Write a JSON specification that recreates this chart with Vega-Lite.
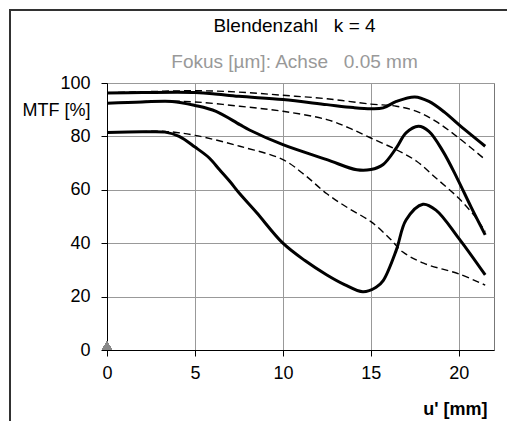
{
  "$schema": "https://vega.github.io/schema/vega-lite/v6.json",
  "width": 387,
  "height": 267,
  "autosize": {"type": "none"},
  "padding": {"left": 107, "top": 83, "right": 13, "bottom": 71},
  "background": "#ffffff",
  "config": {
    "font": "Liberation Sans",
    "view": {"stroke": "#777", "strokeWidth": 1},
    "axis": {"labelFont": "Liberation Sans", "titleFont": "Liberation Sans", "labelColor": "#000", "titleColor": "#000"}
  },
  "title": {
    "text": "Blendenzahl\u00a0\u00a0\u00a0k = 4",
    "subtitle": "Fokus [µm]: Achse\u00a0\u00a0\u00a00.05 mm",
    "anchor": "middle",
    "frame": "group",
    "dx": -6,
    "fontSize": 19,
    "fontWeight": "normal",
    "color": "#000",
    "subtitleFontSize": 19,
    "subtitleColor": "#999",
    "subtitlePadding": 17,
    "offset": -63,
    "font": "Liberation Sans",
    "subtitleFont": "Liberation Sans"
  },
  "data": {
    "values": [
      {"s": "A", "t": "solid", "x": 0, "y": 96.3},
      {"s": "A", "t": "solid", "x": 2, "y": 96.4},
      {"s": "A", "t": "solid", "x": 4, "y": 96.5},
      {"s": "A", "t": "solid", "x": 5, "y": 96.4},
      {"s": "A", "t": "solid", "x": 6, "y": 96.0},
      {"s": "A", "t": "solid", "x": 7.5, "y": 95.0},
      {"s": "A", "t": "solid", "x": 10, "y": 93.8},
      {"s": "A", "t": "solid", "x": 12.5, "y": 91.9},
      {"s": "A", "t": "solid", "x": 14, "y": 90.8},
      {"s": "A", "t": "solid", "x": 15, "y": 90.4},
      {"s": "A", "t": "solid", "x": 15.7, "y": 90.7},
      {"s": "A", "t": "solid", "x": 16.45, "y": 93.1},
      {"s": "A", "t": "solid", "x": 17.5, "y": 94.8},
      {"s": "A", "t": "solid", "x": 18.3, "y": 93.1},
      {"s": "A", "t": "solid", "x": 19.2, "y": 89},
      {"s": "A", "t": "solid", "x": 20, "y": 84.4},
      {"s": "A", "t": "solid", "x": 21.5, "y": 76.3},
      {"s": "B", "t": "solid", "x": 0, "y": 92.4},
      {"s": "B", "t": "solid", "x": 2, "y": 92.9},
      {"s": "B", "t": "solid", "x": 3.7, "y": 93.1},
      {"s": "B", "t": "solid", "x": 5, "y": 91.6},
      {"s": "B", "t": "solid", "x": 6.2, "y": 89.4},
      {"s": "B", "t": "solid", "x": 7.55, "y": 84.4},
      {"s": "B", "t": "solid", "x": 8.1, "y": 82.4},
      {"s": "B", "t": "solid", "x": 10, "y": 76.9},
      {"s": "B", "t": "solid", "x": 12.5, "y": 71.3},
      {"s": "B", "t": "solid", "x": 14.2, "y": 67.5},
      {"s": "B", "t": "solid", "x": 15, "y": 67.6},
      {"s": "B", "t": "solid", "x": 15.7, "y": 69.5},
      {"s": "B", "t": "solid", "x": 16.45, "y": 75.7},
      {"s": "B", "t": "solid", "x": 17, "y": 81.3},
      {"s": "B", "t": "solid", "x": 17.7, "y": 83.8},
      {"s": "B", "t": "solid", "x": 18.3, "y": 81.9},
      {"s": "B", "t": "solid", "x": 19.1, "y": 74.4},
      {"s": "B", "t": "solid", "x": 19.9, "y": 64.4},
      {"s": "B", "t": "solid", "x": 20.7, "y": 53.5},
      {"s": "B", "t": "solid", "x": 21.5, "y": 43.1},
      {"s": "C", "t": "solid", "x": 0, "y": 81.5},
      {"s": "C", "t": "solid", "x": 2, "y": 81.7},
      {"s": "C", "t": "solid", "x": 3.3, "y": 81.6},
      {"s": "C", "t": "solid", "x": 4.1, "y": 80.0},
      {"s": "C", "t": "solid", "x": 5, "y": 76},
      {"s": "C", "t": "solid", "x": 5.8, "y": 72},
      {"s": "C", "t": "solid", "x": 6.4, "y": 67.5},
      {"s": "C", "t": "solid", "x": 7, "y": 63},
      {"s": "C", "t": "solid", "x": 7.55, "y": 58.5},
      {"s": "C", "t": "solid", "x": 8.5, "y": 51.5},
      {"s": "C", "t": "solid", "x": 10, "y": 40},
      {"s": "C", "t": "solid", "x": 11.25, "y": 33.5},
      {"s": "C", "t": "solid", "x": 12.5, "y": 28.1},
      {"s": "C", "t": "solid", "x": 13.5, "y": 24.5},
      {"s": "C", "t": "solid", "x": 14.55, "y": 21.8},
      {"s": "C", "t": "solid", "x": 15.3, "y": 23.5},
      {"s": "C", "t": "solid", "x": 15.7, "y": 26},
      {"s": "C", "t": "solid", "x": 16.45, "y": 37.5},
      {"s": "C", "t": "solid", "x": 17, "y": 48.7},
      {"s": "C", "t": "solid", "x": 17.96, "y": 54.6},
      {"s": "C", "t": "solid", "x": 18.7, "y": 52.4},
      {"s": "C", "t": "solid", "x": 20, "y": 41.8},
      {"s": "C", "t": "solid", "x": 21.5, "y": 28.1},
      {"s": "D", "t": "dashed", "x": 0, "y": 96.3},
      {"s": "D", "t": "dashed", "x": 2.5, "y": 96.8},
      {"s": "D", "t": "dashed", "x": 5, "y": 97.1},
      {"s": "D", "t": "dashed", "x": 7.5, "y": 96.6},
      {"s": "D", "t": "dashed", "x": 10, "y": 95.4},
      {"s": "D", "t": "dashed", "x": 12.5, "y": 94.1},
      {"s": "D", "t": "dashed", "x": 15, "y": 92.1},
      {"s": "D", "t": "dashed", "x": 16.45, "y": 91.3},
      {"s": "D", "t": "dashed", "x": 17.6, "y": 89.4},
      {"s": "D", "t": "dashed", "x": 18.7, "y": 85.6},
      {"s": "D", "t": "dashed", "x": 20, "y": 79.4},
      {"s": "D", "t": "dashed", "x": 21.5, "y": 71.3},
      {"s": "E", "t": "dashed", "x": 0, "y": 92.4},
      {"s": "E", "t": "dashed", "x": 3, "y": 93.2},
      {"s": "E", "t": "dashed", "x": 5, "y": 92.9},
      {"s": "E", "t": "dashed", "x": 7.55, "y": 91.3},
      {"s": "E", "t": "dashed", "x": 10, "y": 89.4},
      {"s": "E", "t": "dashed", "x": 12.5, "y": 86.3},
      {"s": "E", "t": "dashed", "x": 13.75, "y": 83.2},
      {"s": "E", "t": "dashed", "x": 15, "y": 79.4},
      {"s": "E", "t": "dashed", "x": 16.45, "y": 75.0},
      {"s": "E", "t": "dashed", "x": 17.6, "y": 70.7},
      {"s": "E", "t": "dashed", "x": 18.7, "y": 64.4},
      {"s": "E", "t": "dashed", "x": 20, "y": 56.8},
      {"s": "E", "t": "dashed", "x": 21, "y": 49.3},
      {"s": "E", "t": "dashed", "x": 21.5, "y": 44.3},
      {"s": "F", "t": "dashed", "x": 0, "y": 81.5},
      {"s": "F", "t": "dashed", "x": 2, "y": 81.8},
      {"s": "F", "t": "dashed", "x": 3.3, "y": 81.9},
      {"s": "F", "t": "dashed", "x": 5, "y": 80.4},
      {"s": "F", "t": "dashed", "x": 7.55, "y": 76.3},
      {"s": "F", "t": "dashed", "x": 10, "y": 71.3},
      {"s": "F", "t": "dashed", "x": 11.25, "y": 65.5},
      {"s": "F", "t": "dashed", "x": 12.5, "y": 58.5},
      {"s": "F", "t": "dashed", "x": 13.75, "y": 53},
      {"s": "F", "t": "dashed", "x": 15, "y": 48.1},
      {"s": "F", "t": "dashed", "x": 16.07, "y": 41.8},
      {"s": "F", "t": "dashed", "x": 16.8, "y": 36.8},
      {"s": "F", "t": "dashed", "x": 18, "y": 32.5},
      {"s": "F", "t": "dashed", "x": 20, "y": 28.5},
      {"s": "F", "t": "dashed", "x": 21.5, "y": 24.3}
    ]
  },
  "layer": [
    {
      "transform": [{"filter": "datum.t === 'dashed'"}],
      "mark": {"type": "line", "interpolate": "catmull-rom", "color": "#000", "strokeWidth": 1.4, "strokeDash": [7, 4]},
      "encoding": {
        "x": {
          "field": "x", "type": "quantitative",
          "scale": {"domain": [0, 22], "nice": false, "zero": false},
          "axis": {
            "values": [0, 5, 10, 15, 20],
            "grid": true, "gridColor": "#999", "gridWidth": 1,
            "domainColor": "#000", "tickColor": "#000", "tickSize": 6,
            "labelFontSize": 18, "labelPadding": 8, "labelFlush": false, "labelOverlap": false,
            "title": "u' [mm]", "titleFontSize": 18, "titleFontWeight": "bold",
            "titleAnchor": "end", "titleAlign": "right", "titleX": 380, "titleY": 64, "titleBaseline": "alphabetic"
          }
        },
        "y": {
          "field": "y", "type": "quantitative",
          "scale": {"domain": [0, 100], "nice": false},
          "axis": {
            "values": [0, 10, 20, 30, 40, 50, 60, 70, 80, 90, 100],
            "grid": true, "gridColor": "#999", "gridWidth": 1,
            "gridOpacity": {"condition": {"test": "datum.value % 20 === 0", "value": 1}, "value": 0},
            "domainColor": "#000", "tickColor": "#000",
            "tickSize": {"condition": {"test": "datum.value % 20 === 0", "value": 6}, "value": 4},
            "labelFontSize": 18, "labelPadding": 11, "labelFlush": false, "labelOverlap": false,
            "labelExpr": "datum.value % 20 === 0 ? datum.label : ''",
            "title": "MTF [%]", "titleAngle": 0, "titleFontSize": 18, "titleFontWeight": "normal",
            "titleAlign": "right", "titleBaseline": "middle", "titleX": -17, "titleY": 27
          }
        },
        "detail": {"field": "s"}
      }
    },
    {
      "transform": [{"filter": "datum.t === 'solid'"}],
      "mark": {"type": "line", "interpolate": "catmull-rom", "color": "#000", "strokeWidth": 3},
      "encoding": {
        "x": {"field": "x", "type": "quantitative"},
        "y": {"field": "y", "type": "quantitative"},
        "detail": {"field": "s"}
      }
    },
    {
      "mark": {"type": "point", "shape": "triangle-up", "filled": true, "color": "#888", "size": 90, "opacity": 1, "yOffset": -4.5},
      "encoding": {
        "x": {"datum": 0, "type": "quantitative"},
        "y": {"datum": 0, "type": "quantitative"}
      }
    },
    {
      "mark": {"type": "rule", "color": "#333", "strokeWidth": 1.5},
      "encoding": {
        "x": {"datum": -5.52, "type": "quantitative"},
        "y": {"datum": 127.3, "type": "quantitative"},
        "y2": {"datum": -40}
      }
    },
    {
      "mark": {"type": "rule", "color": "#333", "strokeWidth": 1.5},
      "encoding": {
        "y": {"datum": 127.3, "type": "quantitative"},
        "x": {"datum": -5.52, "type": "quantitative"},
        "x2": {"datum": 30}
      }
    }
  ]
}
